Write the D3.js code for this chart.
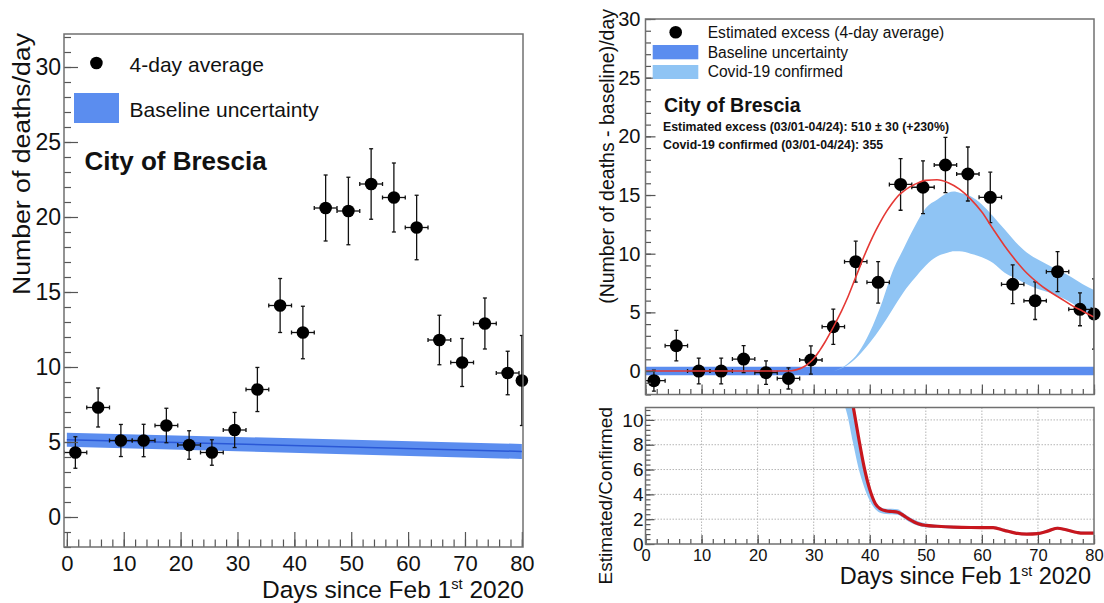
<!DOCTYPE html>
<html><head><meta charset="utf-8">
<script src="https://cdn.jsdelivr.net/npm/d3@7"></script>
<style>
html,body{margin:0;padding:0;background:#fff;}
svg{display:block;font-family:"Liberation Sans",Arial,Helvetica,sans-serif;}
</style></head><body>
<svg id="chart" width="1104" height="603"></svg>
<script>
// ---------------- DATA ----------------
const dayCenters = [1.5, 5.5, 9.5, 13.5, 17.5, 21.5, 25.5, 29.5, 33.5, 37.5, 41.5, 45.5, 49.5, 53.5, 57.5, 61.5, 65.5, 69.5, 73.5, 77.5, 80];
const dayHalfWidth = [2, 2, 2, 2, 2, 2, 2, 2, 2, 2, 2, 2, 2, 2, 2, 2, 2, 2, 2, 2, 0.5];

// Left panel: 4-day average deaths/day
const deathsAvg = [4.3, 7.3, 5.1, 5.1, 6.1, 4.8, 4.3, 5.8, 8.5, 14.1, 12.3, 20.6, 20.4, 22.2, 21.3, 19.3, 11.8, 10.3, 12.9, 9.6, 9.1];
const deathsErr = [1.05, 1.3, 1.07, 1.08, 1.15, 0.95, 0.85, 1.17, 1.47, 1.8, 1.75, 2.2, 2.25, 2.35, 2.3, 2.15, 1.65, 1.6, 1.7, 1.45, 3.0];

// Left panel baseline band
const baselineDays = [0, 80];
const baselineCenter = [5.15, 4.37];
const baselineHalf = [0.47, 0.5];

// Right panel: estimated excess
const excessAvg = [-0.82, 2.16, 0.0, 0.0, 1.02, -0.14, -0.63, 0.94, 3.78, 9.32, 7.56, 15.9, 15.66, 17.56, 16.79, 14.8, 7.39, 5.99, 8.47, 5.26, 4.86];
const excessErr = [0.9, 1.3, 1.1, 1.1, 1.15, 1.0, 0.9, 1.2, 1.5, 1.75, 1.77, 2.2, 2.25, 2.35, 2.3, 2.15, 1.65, 1.6, 1.7, 1.4, 3.0];

// Right panel baseline band (around zero)
const excessBaseDays = [0, 80];
const excessBaseHalf = [0.37, 0.37];

// Right panel fit curve (red)
const fitDays = [0, 24, 26, 27, 28, 29, 30, 31, 32, 33, 34, 35, 36, 37, 38, 39, 40, 41, 42, 43, 44, 45, 46, 47, 48, 50, 52, 54, 56, 58, 60, 62, 64, 66, 68, 70, 72, 74, 76, 78, 80];
const fitVals = [0, 0, 0.03, 0.12, 0.3, 0.62, 1.05, 1.7, 2.45, 3.3, 4.2, 5.15, 6.2, 7.4, 8.6, 9.8, 10.9, 11.9, 12.8, 13.6, 14.3, 14.9, 15.3, 15.65, 15.9, 16.25, 16.3, 16.05, 15.5, 14.65, 13.55, 12.1, 10.7, 9.45, 8.35, 7.5, 6.8, 6.2, 5.6, 5.1, 4.6];

// Right panel Covid-19 confirmed band
const covidDays = [33.6, 36, 38, 40, 42, 44, 46, 48, 50, 52, 54, 55, 56, 58, 60, 62, 64, 66, 68, 70, 72, 74, 76, 78, 80];
const covidLo = [0.0, 0.5, 1.3, 2.4, 3.7, 5.2, 6.7, 7.9, 9.0, 9.75, 10.1, 10.2, 10.2, 10.0, 9.7, 9.2, 8.4, 7.9, 7.4, 7.0, 6.7, 6.3, 5.8, 5.2, 4.5];
const covidHi = [0.0, 0.6, 1.6, 3.3, 5.6, 8.4, 10.4, 12.3, 13.9, 14.6, 15.2, 15.3, 15.2, 14.9, 14.2, 13.2, 12.1, 11.0, 10.1, 9.5, 9.0, 8.5, 8.0, 7.4, 6.9];

// Lower panel: Estimated/Confirmed ratio
const ratioDays = [37, 38, 39, 40, 41, 42, 43, 44, 45, 46, 47, 48, 49, 50, 52, 55, 58, 62, 64, 66, 68, 70, 72, 73.5, 75, 77, 78, 80];
const ratioVals = [11.2, 8.6, 6.2, 4.4, 3.25, 2.8, 2.66, 2.62, 2.56, 2.3, 2.0, 1.75, 1.58, 1.5, 1.43, 1.36, 1.33, 1.32, 1.1, 0.88, 0.8, 0.84, 1.08, 1.27, 1.15, 0.93, 0.88, 0.88];
const ratioBandDays = [35.5, 36, 37, 38, 39, 40, 41, 42, 43, 44, 45, 46, 47, 48, 50, 52, 55, 58, 62, 64, 66, 68, 70, 72, 73.5, 75, 77, 80];
const ratioBandLo = [11.2, 10.4, 8.2, 6.1, 4.6, 3.5, 2.8, 2.5, 2.42, 2.4, 2.35, 2.1, 1.8, 1.58, 1.35, 1.3, 1.22, 1.2, 1.2, 0.98, 0.78, 0.7, 0.74, 0.98, 1.17, 1.05, 0.84, 0.8];
const ratioBandHi = [11.6, 12.0, 11.5, 8.9, 6.5, 4.7, 3.45, 2.95, 2.85, 2.85, 2.8, 2.5, 2.2, 1.95, 1.65, 1.56, 1.48, 1.45, 1.44, 1.22, 0.98, 0.9, 0.94, 1.2, 1.4, 1.26, 1.03, 0.98];

// Tick labels
const xTickLabels = [0, 10, 20, 30, 40, 50, 60, 70, 80];
const leftYTickLabels = [0, 5, 10, 15, 20, 25, 30];
const rightYTickLabels = [0, 5, 10, 15, 20, 25, 30];
const ratioYTickLabels = [0, 2, 4, 6, 8, 10];

// ---------------- DRAWING ----------------
const svg = d3.select("#chart");
const FRAME = "#707070", TICK = "#555";
const BASE_BLUE = "#5b8def", COVID_BLUE = "#8fc4f4", DARK_BLUE = "#2a58d6";

function frame(x0, y0, x1, y1) {
  svg.append("rect").attr("x", x0).attr("y", y0).attr("width", x1 - x0).attr("height", y1 - y0)
    .attr("fill", "none").attr("stroke", FRAME).attr("stroke-width", 1.5);
}
function clip(id, x0, y0, x1, y1) {
  svg.append("clipPath").attr("id", id).append("rect")
    .attr("x", x0).attr("y", y0).attr("width", x1 - x0).attr("height", y1 - y0);
}
function styleAxis(g, fs) {
  g.select(".domain").remove();
  g.selectAll(".tick line").attr("stroke", TICK).attr("stroke-width", 1.2);
  g.selectAll("text").attr("fill", "#111").style("font-size", fs + "px");
}
function yAxis(scale, x, majors, minors, majLen, minLen, fs, pad) {
  const gm = svg.append("g").attr("transform", `translate(${x},0)`)
    .call(d3.axisLeft(scale).tickValues(minors).tickSizeInner(-minLen).tickSizeOuter(0).tickFormat(""));
  styleAxis(gm, fs);
  const g = svg.append("g").attr("transform", `translate(${x},0)`)
    .call(d3.axisLeft(scale).tickValues(majors).tickSizeInner(-majLen).tickSizeOuter(0).tickPadding(pad).tickFormat(d3.format("d")));
  styleAxis(g, fs);
  return g;
}
function xAxis(scale, y, majors, minors, majLen, minLen, fs, pad, labels) {
  const gm = svg.append("g").attr("transform", `translate(0,${y})`)
    .call(d3.axisBottom(scale).tickValues(minors).tickSizeInner(-minLen).tickSizeOuter(0).tickFormat(""));
  styleAxis(gm, fs);
  const g = svg.append("g").attr("transform", `translate(0,${y})`)
    .call(d3.axisBottom(scale).tickValues(majors).tickSizeInner(-majLen).tickSizeOuter(0).tickPadding(pad)
      .tickFormat(labels ? d3.format("d") : ""));
  styleAxis(g, fs);
  return g;
}
function points(xs, ys, vals, errs, clipId, r) {
  const g = svg.append("g");
  const gb = g.append("g").attr("clip-path", `url(#${clipId})`)
    .attr("stroke", "#111").attr("stroke-width", 1.3);
  dayCenters.forEach((d, i) => {
    const X = xs(d), Y = ys(vals[i]);
    const y1 = ys(vals[i] + errs[i]), y2 = ys(vals[i] - errs[i]);
    const x1 = xs(d - dayHalfWidth[i]), x2 = xs(d + dayHalfWidth[i]);
    gb.append("line").attr("x1", X).attr("x2", X).attr("y1", y1).attr("y2", y2);
    gb.append("line").attr("x1", x1).attr("x2", x2).attr("y1", Y).attr("y2", Y);
    gb.append("line").attr("x1", X - 2).attr("x2", X + 2).attr("y1", y1).attr("y2", y1);
    gb.append("line").attr("x1", X - 2).attr("x2", X + 2).attr("y1", y2).attr("y2", y2);
    gb.append("line").attr("x1", x1).attr("x2", x1).attr("y1", Y - 2).attr("y2", Y + 2);
    gb.append("line").attr("x1", x2).attr("x2", x2).attr("y1", Y - 2).attr("y2", Y + 2);
  });
  g.selectAll("circle").data(dayCenters).join("circle")
    .attr("cx", d => xs(d)).attr("cy", (d, i) => ys(vals[i])).attr("r", r).attr("fill", "#000");
}
function daysTitle(xRight, yBase, fs) {
  const t = svg.append("text").attr("x", xRight).attr("y", yBase).attr("text-anchor", "end")
    .style("font-size", fs + "px").attr("fill", "#111");
  t.append("tspan").text("Days since Feb 1");
  t.append("tspan").attr("dy", -fs * 0.36).style("font-size", (fs * 0.6) + "px").text("st");
  t.append("tspan").attr("dy", fs * 0.36).text(" 2020");
}

// ===== LEFT PANEL =====
const L = {x0: 64, x1: 523, y0: 34, y1: 547};
const xL = d3.scaleLinear().domain([-0.5, 80.2]).range([L.x0, L.x1]);
const yL = d3.scaleLinear().domain([-2, 32.2]).range([L.y1, L.y0]);
clip("clipL", L.x0, L.y0, L.x1, L.y1);

const baseIdx = d3.range(baselineDays.length);
svg.append("path").attr("clip-path", "url(#clipL)")
  .attr("d", d3.area().x(i => xL(baselineDays[i]))
    .y0(i => yL(baselineCenter[i] - baselineHalf[i])).y1(i => yL(baselineCenter[i] + baselineHalf[i]))(baseIdx))
  .attr("fill", BASE_BLUE);
svg.append("path")
  .attr("d", d3.line().x(i => xL(baselineDays[i])).y(i => yL(baselineCenter[i]))(baseIdx))
  .attr("fill", "none").attr("stroke", DARK_BLUE).attr("stroke-width", 1.5);

points(xL, yL, deathsAvg, deathsErr, "clipL", 6.3);

yAxis(yL, L.x0, leftYTickLabels, d3.range(-2, 33, 1), 14, 7, 23, 3);
xAxis(xL, L.y1, xTickLabels, d3.range(0, 81, 2), 15, 7.5, 22, 8, true);
frame(L.x0, L.y0, L.x1, L.y1);

svg.append("text").attr("transform", "translate(30,33) rotate(-90)").attr("text-anchor", "end")
  .style("font-size", "23px").attr("textLength", 262).attr("lengthAdjust", "spacingAndGlyphs")
  .attr("fill", "#111").text("Number of deaths/day");
daysTitle(524, 597.5, 24.5);

// legend left
svg.append("circle").attr("cx", 96.4).attr("cy", 63).attr("r", 6.3).attr("fill", "#000");
svg.append("text").attr("x", 129.6).attr("y", 72).style("font-size", "21px").attr("fill", "#111").text("4-day average");
svg.append("rect").attr("x", 74).attr("y", 93).attr("width", 45).attr("height", 30).attr("fill", BASE_BLUE);
svg.append("text").attr("x", 129.6).attr("y", 117).style("font-size", "21px").attr("fill", "#111").text("Baseline uncertainty");
svg.append("text").attr("x", 84.6).attr("y", 169.5).style("font-size", "26px").style("font-weight", "bold")
  .attr("fill", "#111").text("City of Brescia");

// ===== RIGHT UPPER PANEL =====
const R = {x0: 645.5, x1: 1094, y0: 19, y1: 394.5};
const xR = d3.scaleLinear().domain([0, 80]).range([R.x0, R.x1]);
const yR = d3.scaleLinear().domain([-2, 30]).range([R.y1, R.y0]);
clip("clipR", R.x0, R.y0, R.x1, R.y1);

const ebIdx = d3.range(excessBaseDays.length);
svg.append("path").attr("clip-path", "url(#clipR)")
  .attr("d", d3.area().x(i => xR(excessBaseDays[i]))
    .y0(i => yR(-excessBaseHalf[i])).y1(i => yR(excessBaseHalf[i]))(ebIdx))
  .attr("fill", BASE_BLUE);

const cIdx = d3.range(covidDays.length);
svg.append("path").attr("clip-path", "url(#clipR)")
  .attr("d", d3.area().curve(d3.curveMonotoneX).x(i => xR(covidDays[i]))
    .y0(i => yR(covidLo[i])).y1(i => yR(covidHi[i]))(cIdx))
  .attr("fill", COVID_BLUE);

points(xR, yR, excessAvg, excessErr, "clipR", 6.5);

const fIdx = d3.range(fitDays.length);
svg.append("path").attr("clip-path", "url(#clipR)")
  .attr("d", d3.line().curve(d3.curveMonotoneX).x(i => xR(fitDays[i])).y(i => yR(fitVals[i]))(fIdx))
  .attr("fill", "none").attr("stroke", "#e53935").attr("stroke-width", 1.6);

yAxis(yR, R.x0, rightYTickLabels, d3.range(-2, 31, 1), 10, 5.5, 20, 5);
xAxis(xR, R.y1, xTickLabels, d3.range(0, 81, 2), 10, 5.5, 17, 6, false);
frame(R.x0, R.y0, R.x1, R.y1);

svg.append("text").attr("transform", "translate(614,9) rotate(-90)").attr("text-anchor", "end")
  .style("font-size", "19.5px").attr("fill", "#111").text("(Number of deaths - baseline)/day");

// legend right
svg.append("circle").attr("cx", 675.7).attr("cy", 32.3).attr("r", 6.3).attr("fill", "#000");
svg.append("text").attr("x", 707.7).attr("y", 37.7).style("font-size", "15.6px").attr("fill", "#111").text("Estimated excess (4-day average)");
svg.append("rect").attr("x", 652.7).attr("y", 45).attr("width", 45.6).attr("height", 14.3).attr("fill", BASE_BLUE);
svg.append("text").attr("x", 707.7).attr("y", 57.7).style("font-size", "15.6px").attr("fill", "#111").text("Baseline uncertainty");
svg.append("rect").attr("x", 652.7).attr("y", 65).attr("width", 45.6).attr("height", 14).attr("fill", COVID_BLUE);
svg.append("text").attr("x", 707.7).attr("y", 76.7).style("font-size", "15.6px").attr("fill", "#111").text("Covid-19 confirmed");
svg.append("text").attr("x", 664).attr("y", 112).style("font-size", "19.5px").style("font-weight", "bold")
  .attr("fill", "#111").text("City of Brescia");
svg.append("text").attr("x", 663).attr("y", 131).style("font-size", "12.3px").style("font-weight", "bold")
  .attr("fill", "#111").text("Estimated excess (03/01-04/24): 510 \u00b1 30 (+230%)");
svg.append("text").attr("x", 663).attr("y", 149.3).style("font-size", "12.3px").style("font-weight", "bold")
  .attr("fill", "#111").text("Covid-19 confirmed (03/01-04/24): 355");

// ===== RIGHT LOWER PANEL =====
const Q = {x0: 645.5, x1: 1094, y0: 407.5, y1: 544};
const yQ = d3.scaleLinear().domain([0, 11]).range([Q.y1, Q.y0]);
clip("clipQ", Q.x0, Q.y0, Q.x1, Q.y1);

// grid
const grid = svg.append("g").attr("stroke", "#b5b5b5").attr("stroke-width", 1).attr("stroke-dasharray", "1.5,1.5");
xTickLabels.filter(d => d > 0 && d < 80).forEach(d => {
  grid.append("line").attr("x1", xR(d)).attr("x2", xR(d)).attr("y1", Q.y0).attr("y2", Q.y1);
});
ratioYTickLabels.filter(d => d > 0).forEach(d => {
  grid.append("line").attr("x1", Q.x0).attr("x2", Q.x1).attr("y1", yQ(d)).attr("y2", yQ(d));
});

const rbIdx = d3.range(ratioBandDays.length);
svg.append("path").attr("clip-path", "url(#clipQ)")
  .attr("d", d3.area().curve(d3.curveMonotoneX).x(i => xR(ratioBandDays[i]))
    .y0(i => yQ(ratioBandLo[i])).y1(i => yQ(ratioBandHi[i]))(rbIdx))
  .attr("fill", COVID_BLUE);
const rIdx = d3.range(ratioDays.length);
svg.append("path").attr("clip-path", "url(#clipQ)")
  .attr("d", d3.line().curve(d3.curveMonotoneX).x(i => xR(ratioDays[i])).y(i => yQ(ratioVals[i]))(rIdx))
  .attr("fill", "none").attr("stroke", "#c8161d").attr("stroke-width", 3.2);

yAxis(yQ, Q.x0, ratioYTickLabels, d3.range(0, 11.01, 0.4), 9, 5, 19, 2);
xAxis(xR, Q.y1, xTickLabels, d3.range(0, 81, 2), 9, 5, 16.5, 5, true);
frame(Q.x0, Q.y0, Q.x1, Q.y1);

svg.append("text").attr("transform", "translate(612,407) rotate(-90)").attr("text-anchor", "end")
  .style("font-size", "19px").attr("fill", "#111").text("Estimated/Confirmed");
daysTitle(1091, 584, 23.5);
</script>
</body></html>
